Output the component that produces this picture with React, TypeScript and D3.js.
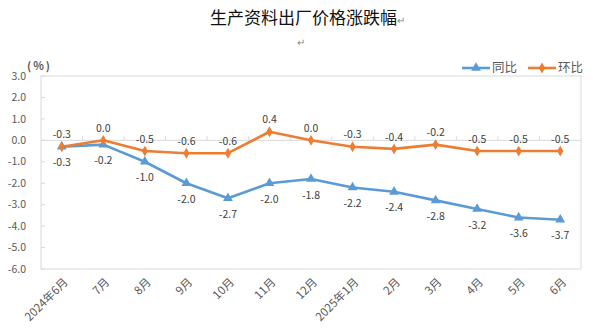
import React from "react";
import * as d3 from "d3";

const categories = ["2024年6月", "7月", "8月", "9月", "10月", "11月", "12月", "2025年1月", "2月", "3月", "4月", "5月", "6月"];
const yoyValues = [-0.3, -0.2, -1.0, -2.0, -2.7, -2.0, -1.8, -2.2, -2.4, -2.8, -3.2, -3.6, -3.7];
const momValues = [-0.3, 0.0, -0.5, -0.6, -0.6, 0.4, 0.0, -0.3, -0.4, -0.2, -0.5, -0.5, -0.5];
const yTicks = [3, 2, 1, 0, -1, -2, -3, -4, -5, -6];
const seriesNames = ["同比", "环比"];

const W = 593, H = 334;
const left = 41, right = 581, top = 76, bottom = 269;
const BLUE = "#5B9BD5", ORANGE = "#ED7D31", GRID = "#D9D9D9", TXT = "#595959";
const FONT = "'Noto Sans CJK SC', 'Noto Sans', sans-serif";

export default function App() {
  const x = d3.scaleBand<string>().domain(categories).range([left, right]).padding(0);
  const y = d3.scaleLinear().domain([-6, 3]).range([bottom, top]);
  const cx = (c: string) => (x(c) as number) + x.bandwidth() / 2;
  const line = d3.line<number>().x((_, i) => cx(categories[i])).y((v) => y(v));
  const tri = d3.symbol().type(d3.symbolTriangle).size(42)() as string;
  const dia = d3.symbol().type(d3.symbolDiamond).size(34)() as string;

  return (
    <svg width={W} height={H} style={{ position: "absolute", left: 0, top: 0, background: "#fff" }} fontFamily={FONT}>
      <rect x={0} y={0} width={W} height={H} fill="#fff" />
      <text x={210} y={24} fontSize={17} fill="#111">生产资料出厂价格涨跌幅<tspan fill="#888" fontSize={10}>↵</tspan></text>
      <text x={297} y={46} fontSize={10} fill="#888">↵</text>
      <text x={27} y={66} dy="0.35em" fontSize={11} fontWeight="bold" fill={TXT} letterSpacing={2}>(%)</text>

      {/* frame */}
      <rect x={left} y={top} width={right - left} height={bottom - top} fill="none" stroke={GRID} strokeWidth={1} />
      {/* y ticks */}
      {yTicks.map((t) => (
        <g key={t}>
          <line x1={left} x2={left + 4} y1={y(t)} y2={y(t)} stroke={GRID} />
          <text x={26} y={y(t)} dy="0.35em" textAnchor="end" fontSize={10.5} fill={TXT}>{t.toFixed(1)}</text>
        </g>
      ))}
      {/* zero axis */}
      <line x1={left} x2={right} y1={y(0)} y2={y(0)} stroke={GRID} />
      {categories.map((c, i) => i > 0 ? (
        <line key={c} x1={x(c) as number} x2={x(c) as number} y1={y(0)} y2={y(0) - 4} stroke={GRID} />
      ) : null)}
      {/* category labels */}
      {categories.map((c) => (
        <text key={c} transform={`translate(${cx(c) + 4},${bottom + 11}) rotate(-45)`} textAnchor="end" dy="0.35em" fontSize={11.5} fill={TXT}>{c}</text>
      ))}

      {/* series */}
      <path d={line(yoyValues) as string} fill="none" stroke={BLUE} strokeWidth={2.6} strokeLinejoin="round" />
      <path d={line(momValues) as string} fill="none" stroke={ORANGE} strokeWidth={2.6} strokeLinejoin="round" />
      {yoyValues.map((v, i) => (
        <path key={"b" + i} d={tri} transform={`translate(${cx(categories[i])},${y(v)})`} fill={BLUE} />
      ))}
      {momValues.map((v, i) => (
        <path key={"o" + i} d={dia} transform={`translate(${cx(categories[i])},${y(v)})`} fill={ORANGE} />
      ))}
      {yoyValues.map((v, i) => (
        <text key={"bl" + i} x={cx(categories[i])} y={y(v) + 16} dy="0.35em" textAnchor="middle" fontSize={10.5} fill="#404040">{v.toFixed(1)}</text>
      ))}
      {momValues.map((v, i) => (
        <text key={"ol" + i} x={cx(categories[i])} y={y(v) - 12} dy="0.35em" textAnchor="middle" fontSize={10.5} fill="#404040">{v.toFixed(1)}</text>
      ))}

      {/* legend */}
      <line x1={462} x2={490} y1={68} y2={68} stroke={BLUE} strokeWidth={2.6} />
      <path d={tri} transform="translate(476,68)" fill={BLUE} />
      <text x={492} y={68} dy="0.35em" fontSize={12.5} fill={TXT}>{seriesNames[0]}</text>
      <line x1={528} x2={556} y1={68} y2={68} stroke={ORANGE} strokeWidth={2.6} />
      <path d={dia} transform="translate(542,68)" fill={ORANGE} />
      <text x={558} y={68} dy="0.35em" fontSize={12.5} fill={TXT}>{seriesNames[1]}</text>
    </svg>
  );
}
